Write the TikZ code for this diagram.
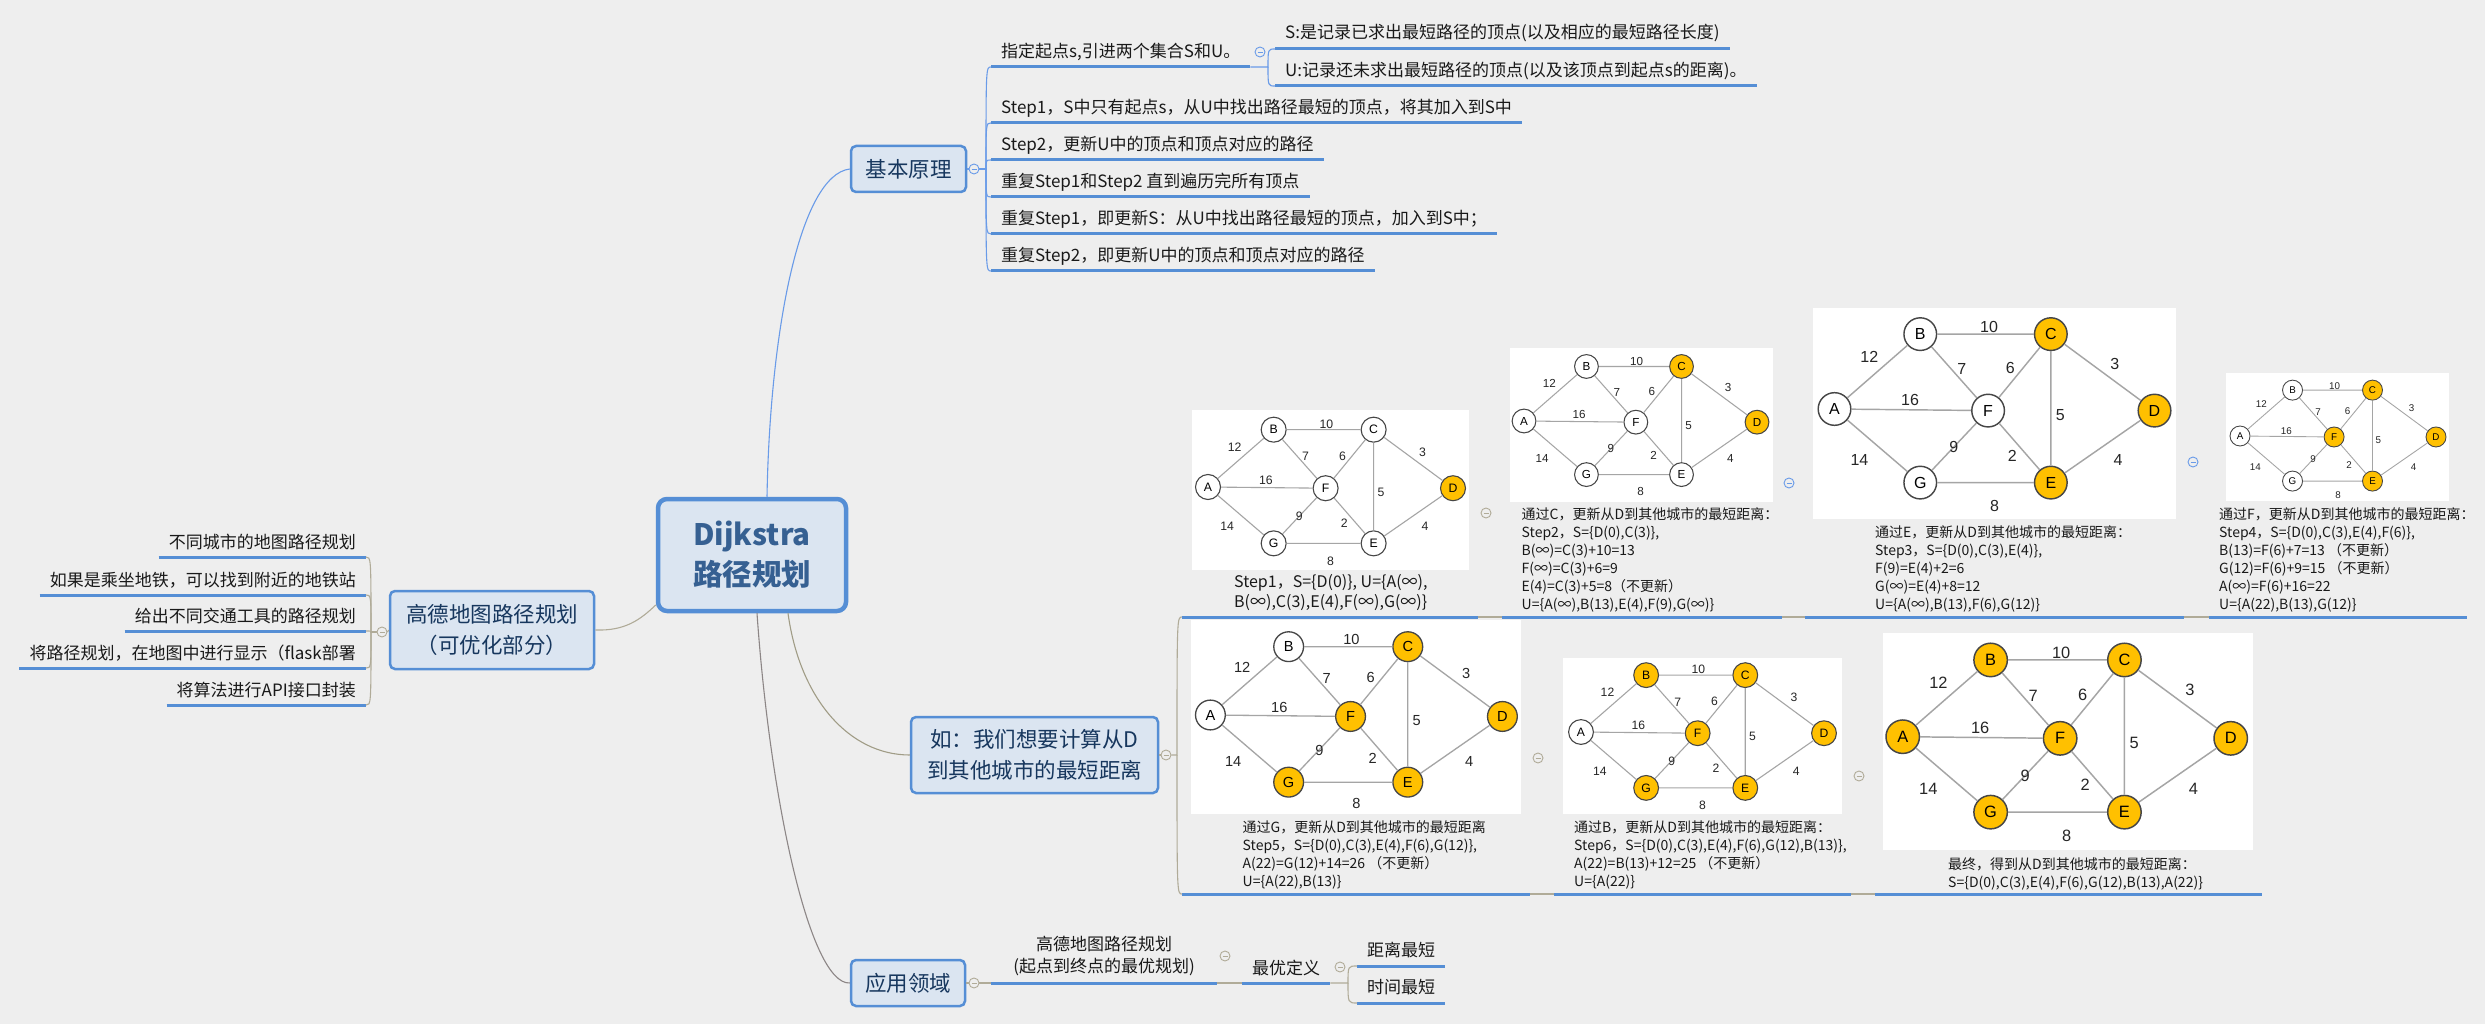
\documentclass[tikz,border=0pt]{standalone}
\usepackage{fontspec}
\setmainfont{Noto Sans CJK SC}
\newfontfamily\gfont{Liberation Sans}
\usetikzlibrary{calc}
\definecolor{bgc}{RGB}{238,238,238}
\definecolor{tfill}{RGB}{219,229,241}
\definecolor{tborder}{RGB}{85,142,213}
\definecolor{ttext}{RGB}{23,55,94}
\definecolor{rtext}{RGB}{54,96,146}
\definecolor{ublue}{RGB}{85,142,213}
\definecolor{cblue}{RGB}{105,155,232}
\definecolor{cgray}{RGB}{176,171,152}
\definecolor{cgraytwo}{RGB}{160,156,134}
\definecolor{cgraythree}{RGB}{140,134,134}
\definecolor{gorange}{RGB}{255,192,0}
\definecolor{gbord}{RGB}{70,70,70}
\definecolor{gedgec}{RGB}{165,165,165}
\tikzset{
 root/.style={draw=tborder, line width=4.5pt, fill=tfill, rounded corners=9pt, text=rtext, font=\fontsize{29.5}{40}\selectfont\bfseries, align=center, inner sep=0pt, minimum width=188pt, minimum height=112pt},
 topic/.style={draw=tborder, line width=2.5pt, fill=tfill, rounded corners=5pt, text=ttext, font=\fontsize{21.5}{30.5}\selectfont, align=center, inner sep=0pt},
 leaf/.style={font=\fontsize{17}{22}\selectfont, inner xsep=10pt, inner ysep=0pt, text=black!90},
 uline/.style={draw=ublue, line width=3pt},
 bconn/.style={draw=cblue, line width=1.1pt},
 gconn/.style={draw=cgray, line width=1.1pt},
 collapse/.style={circle, draw=#1, line width=0.9pt, minimum size=10pt, inner sep=0pt, fill=bgc, path picture={\draw[#1,line width=0.9pt] ([xshift=2.5pt]path picture bounding box.west) -- ([xshift=-2.5pt]path picture bounding box.east);}},
 stext/.style={font=\fontsize{14}{18}\selectfont, align=left, anchor=north west, inner sep=0pt, text=black!90},
 gv/.style={circle, inner sep=0pt, draw=gbord},
 wnode/.style={fill=white},
 onode/.style={fill=gorange},
 gedge/.style={draw=gedgec},
 gl/.style={inner sep=0pt, text=black!85},
 nA/.style=wnode, nB/.style=wnode, nC/.style=wnode, nD/.style=wnode,
 nE/.style=wnode, nF/.style=wnode, nG/.style=wnode
}
\newcommand{\dgraph}[4]{%
 \pgfmathsetmacro{\gfs}{0.05*#4}%
 \pgfmathsetmacro{\glw}{0.0045*#4}%
 \pgfmathsetmacro{\gr}{0.102*#4}%
 \begin{scope}[shift={(#2,#3)},x=#4pt,y=-#4pt,
   gv/.append style={minimum size=\gr pt, line width=\glw pt, font=\fontsize{\gfs}{\gfs}\selectfont\gfont},
   gl/.append style={font=\fontsize{\gfs}{\gfs}\selectfont\gfont}]
 \node[gv,nA] (#1A) at (0,0) {A};
 \node[gv,nB] (#1B) at (0.268,-0.234) {B};
 \node[gv,nC] (#1C) at (0.676,-0.234) {C};
 \node[gv,nD] (#1D) at (1,0.005) {D};
 \node[gv,nF] (#1F) at (0.48,0.005) {F};
 \node[gv,nG] (#1G) at (0.268,0.23) {G};
 \node[gv,nE] (#1E) at (0.676,0.23) {E};
 \draw[gedge,line width=\glw pt] (#1A)--(#1B) (#1A)--(#1F) (#1A)--(#1G) (#1B)--(#1C) (#1B)--(#1F) (#1C)--(#1F) (#1C)--(#1D) (#1C)--(#1E) (#1F)--(#1E) (#1F)--(#1G) (#1G)--(#1E) (#1E)--(#1D);
 \node[gl] (#1l1) at (0.483,-0.257) {10};
 \node[gl] (#1l2) at (0.109,-0.163) {12};
 \node[gl] (#1l3) at (0.398,-0.124) {7};
 \node[gl] (#1l4) at (0.549,-0.127) {6};
 \node[gl] (#1l5) at (0.876,-0.142) {3};
 \node[gl] (#1l6) at (0.236,-0.027) {16};
 \node[gl] (#1l7) at (0.706,0.020) {5};
 \node[gl] (#1l8) at (0.078,0.160) {14};
 \node[gl] (#1l9) at (0.373,0.120) {9};
 \node[gl] (#1l10) at (0.556,0.148) {2};
 \node[gl] (#1l11) at (0.886,0.160) {4};
 \node[gl] (#1l12) at (0.5,0.302) {8};
 \end{scope}}
\newcommand{\myul}[2][15]{%
 \coordinate (#2s) at ([yshift=-#1pt]#2.west);
 \coordinate (#2e) at ([yshift=-#1pt]#2.east);
 \draw[uline] (#2s) -- (#2e);}
\begin{document}
\begin{tikzpicture}[x=1pt,y=-1pt]
\fill[bgc] (0,0) rectangle (2485,1024);
\useasboundingbox (0,0) rectangle (2485,1024);

% main topics
\node[root] (root) at (752,555) {Dijkstra\\路径规划};
\node[topic, minimum width=115pt, minimum height=46pt] (jb) at (908.5,169) {基本原理};
\node[topic, minimum width=247pt, minimum height=76pt] (ru) at (1034.5,755) {如：我们想要计算从D\\到其他城市的最短距离};
\node[topic, minimum width=114pt, minimum height=46pt] (yy) at (908,983) {应用领域};
\node[topic, minimum width=204pt, minimum height=78pt] (gd) at (492,630) {高德地图路径规划\\（可优化部分）};

\draw[bconn] ([xshift=15pt]root.north) .. controls (770,330) and (800,175) .. (jb.west);
\draw[gconn] (gd.east) .. controls (625,631) and (640,620) .. ([yshift=-50pt]root.west);
\draw[draw=cgraytwo, line width=1.1pt] ([xshift=36pt]root.south) .. controls (800,700) and (850,755) .. (ru.west);
\draw[draw=cgraythree, line width=1.1pt] ([xshift=5pt]root.south) .. controls (770,800) and (810,985) .. (yy.west);

% 基本原理 leaves
\node[leaf, anchor=west] (c1) at (991,52) {指定起点s,引进两个集合S和U。};
\node[leaf, anchor=west] (c2) at (991,108) {Step1，S中只有起点s，从U中找出路径最短的顶点，将其加入到S中};
\node[leaf, anchor=west] (c3) at (991,145) {Step2，更新U中的顶点和顶点对应的路径};
\node[leaf, anchor=west] (c4) at (991,182) {重复Step1和Step2 直到遍历完所有顶点};
\node[leaf, anchor=west] (c5) at (991,219) {重复Step1，即更新S：从U中找出路径最短的顶点，加入到S中；};
\node[leaf, anchor=west] (c6) at (991,256) {重复Step2，即更新U中的顶点和顶点对应的路径};
\node[leaf, anchor=west] (s1) at (1275,33) {S:是记录已求出最短路径的顶点(以及相应的最短路径长度)};
\node[leaf, anchor=west] (s2) at (1275,71) {U:记录还未求出最短路径的顶点(以及该顶点到起点s的距离)。};
\myul{c1}\myul{c2}\myul{c3}\myul{c4}\myul{c5}\myul{c6}\myul[16]{s1}\myul{s2}

\node[collapse=cblue] (kb) at (974,169) {};
\draw[bconn] (jb.east) -- (kb.west);
\coordinate (vb) at (986,169);
\foreach \cc in {c1,c2,c3,c4,c5,c6}
  \draw[bconn] (kb.east) -- (vb) .. controls (vb |- \cc s) .. (\cc s);
\coordinate (vs) at (1268,67);
\draw[bconn] (c1e) -- (vs) .. controls (vs |- s1s) .. (s1s);
\draw[bconn] (vs) .. controls (vs |- s2s) .. (s2s);
\node[collapse=cblue] (ks) at (1260,52) {};

% 高德 leaves
\node[leaf, anchor=east] (g1) at (366,542) {不同城市的地图路径规划};
\node[leaf, anchor=east] (g2) at (366,580) {如果是乘坐地铁，可以找到附近的地铁站};
\node[leaf, anchor=east] (g3) at (366,616) {给出不同交通工具的路径规划};
\node[leaf, anchor=east] (g4) at (366,653) {将路径规划，在地图中进行显示（flask部署};
\node[leaf, anchor=east] (g5) at (366,690) {将算法进行API接口封装};
\myul{g1}\myul{g2}\myul{g3}\myul{g4}\myul{g5}
\node[collapse=cgray] (kg) at (382,632) {};
\draw[gconn] (gd.west) -- (kg.east);
\coordinate (vg) at (371,632);
\foreach \cc in {g1,g2,g3,g4,g5}
  \draw[gconn] (kg.west) -- (vg) .. controls (vg |- \cc e) .. (\cc e);

% example images
\fill[white] (1192,410) rectangle (1469,570);
\fill[white] (1510,348) rectangle (1773,502);
\fill[white] (1813,308) rectangle (2176,519);
\fill[white] (2226,373) rectangle (2449,501);
\fill[white] (1191,620) rectangle (1521,814);
\fill[white] (1563,658) rectangle (1842,814);
\fill[white] (1883,633) rectangle (2253,850);

\begin{scope}\tikzset{nD/.style=onode}\dgraph{ga}{1208}{487}{245}\end{scope}
\begin{scope}\tikzset{nC/.style=onode,nD/.style=onode}\dgraph{gb}{1524}{421}{233}\end{scope}
\begin{scope}\tikzset{nC/.style=onode,nD/.style=onode,nE/.style=onode}\dgraph{gc}{1834.5}{409}{320}\end{scope}
\begin{scope}\tikzset{nC/.style=onode,nD/.style=onode,nE/.style=onode,nF/.style=onode}\dgraph{gd}{2240}{436}{196}\end{scope}
\begin{scope}\tikzset{nC/.style=onode,nD/.style=onode,nE/.style=onode,nF/.style=onode,nG/.style=onode}\dgraph{ge}{1210.4}{715}{292}\end{scope}
\begin{scope}\tikzset{nB/.style=onode,nC/.style=onode,nD/.style=onode,nE/.style=onode,nF/.style=onode,nG/.style=onode}\dgraph{gf}{1581}{732}{243}\end{scope}
\begin{scope}\tikzset{nA/.style=onode,nB/.style=onode,nC/.style=onode,nD/.style=onode,nE/.style=onode,nF/.style=onode,nG/.style=onode}\dgraph{gg}{1902.7}{736.7}{328}\end{scope}

\node[stext, font=\fontsize{16}{20}\selectfont] (t1) at (1234,574) {Step1，S=\{D(0)\}, U=\{A(∞),\\B(∞),C(3),E(4),F(∞),G(∞)\}};
\node[stext] (t2) at (1521.5,507) {通过C，更新从D到其他城市的最短距离：\\Step2，S=\{D(0),C(3)\},\\B(∞)=C(3)+10=13\\F(∞)=C(3)+6=9\\E(4)=C(3)+5=8（不更新）\\U=\{A(∞),B(13),E(4),F(9),G(∞)\}};
\node[stext] (t3) at (1875,525) {通过E，更新从D到其他城市的最短距离：\\Step3，S=\{D(0),C(3),E(4)\},\\F(9)=E(4)+2=6\\G(∞)=E(4)+8=12\\U=\{A(∞),B(13),F(6),G(12)\}};
\node[stext] (t4) at (2219,507) {通过F，更新从D到其他城市的最短距离：\\Step4，S=\{D(0),C(3),E(4),F(6)\},\\B(13)=F(6)+7=13 （不更新）\\G(12)=F(6)+9=15 （不更新）\\A(∞)=F(6)+16=22\\U=\{A(22),B(13),G(12)\}};
\node[stext] (t5) at (1242.5,820) {通过G，更新从D到其他城市的最短距离\\Step5，S=\{D(0),C(3),E(4),F(6),G(12)\},\\A(22)=G(12)+14=26 （不更新）\\U=\{A(22),B(13)\}};
\node[stext] (t6) at (1574,820) {通过B，更新从D到其他城市的最短距离：\\Step6，S=\{D(0),C(3),E(4),F(6),G(12),B(13)\},\\A(22)=B(13)+12=25 （不更新）\\U=\{A(22)\}};
\node[stext] (t7) at (1948,857) {最终，得到从D到其他城市的最短距离：\\S=\{D(0),C(3),E(4),F(6),G(12),B(13),A(22)\}};

% underlines of example children
\coordinate (i1s) at (1182,617); \coordinate (i1e) at (1478,617);
\coordinate (i2s) at (1502,617); \coordinate (i2e) at (1782,617);
\coordinate (i3s) at (1805,617); \coordinate (i3e) at (2184,617);
\coordinate (i4s) at (2209,617); \coordinate (i4e) at (2467,617);
\coordinate (i5s) at (1182,894); \coordinate (i5e) at (1530,894);
\coordinate (i6s) at (1554,894); \coordinate (i6e) at (1851,894);
\coordinate (i7s) at (1875,894); \coordinate (i7e) at (2262,894);
\foreach \ii in {1,...,7} \draw[uline] (i\ii s) -- (i\ii e);
\draw[gconn] (i1e) -- (i2s); \draw[gconn] (i2e) -- (i3s); \draw[gconn] (i3e) -- (i4s);
\draw[gconn] (i5e) -- (i6s); \draw[gconn] (i6e) -- (i7s);
\node[collapse=cgray] (ki1) at (1486,513) {};
\node[collapse=cblue] (ki2) at (1789,483) {};
\node[collapse=cblue] (ki3) at (2193,462) {};
\node[collapse=cgray] (ki5) at (1538,758) {};
\node[collapse=cgray] (ki6) at (1859,776) {};

\node[collapse=cgray] (kr) at (1166,755) {};
\draw[gconn] (ru.east) -- (kr.west);
\coordinate (vr) at (1177,755);
\draw[gconn] (kr.east) -- (vr) .. controls (vr |- i1s) .. (i1s);
\draw[gconn] (vr) .. controls (vr |- i5s) .. (i5s);

% 应用领域 branch
\node[collapse=cgray] (ky) at (974,983) {};
\draw[gconn] (yy.east) -- (ky.west);
\node[leaf, align=center] (a1) at (1104,956) {高德地图路径规划\\(起点到终点的最优规划)};
\coordinate (a1s) at (991,983); \coordinate (a1e) at (1217,983);
\draw[uline] (a1s) -- (a1e);
\draw[gconn] (ky.east) -- (a1s);
\node[collapse=cgray] (ka) at (1225,956) {};
\node[leaf, anchor=west] (a2) at (1242,968) {最优定义};
\myul{a2}
\draw[gconn] (a1e) -- (a2s);
\node[collapse=cgray] (kd) at (1340,967) {};
\node[leaf, anchor=west] (a3) at (1357,950) {距离最短};
\node[leaf, anchor=west] (a4) at (1357,987) {时间最短};
\myul[16]{a3}\myul[16]{a4}
\coordinate (vd) at (1348,983);
\draw[gconn] (a2e) -- (vd) .. controls (vd |- a3s) .. (a3s);
\draw[gconn] (vd) .. controls (vd |- a4s) .. (a4s);
\end{tikzpicture}
\end{document}
